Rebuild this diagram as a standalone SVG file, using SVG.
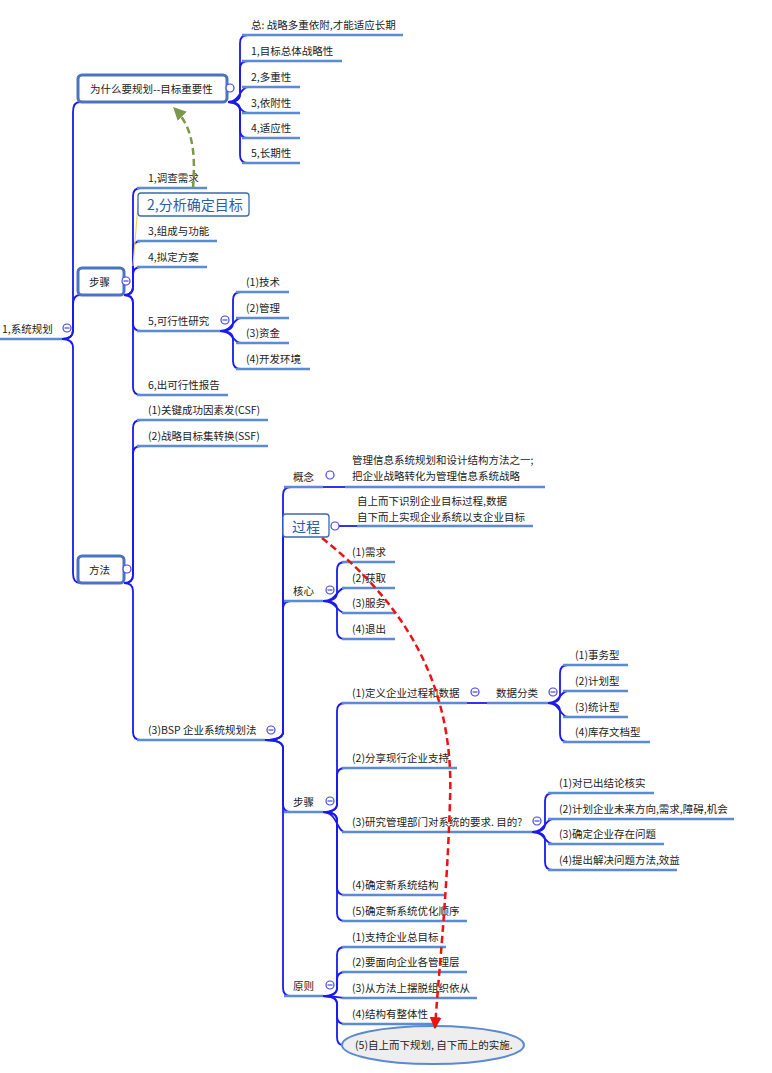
<svg xmlns="http://www.w3.org/2000/svg" width="772" height="1073" viewBox="0 0 772 1073">
<style>
text{font-family:"Noto Sans CJK SC","Liberation Sans",sans-serif;font-size:10.5px;fill:#222}
.big{font-size:14px;fill:#2a5cb0}
.ul{stroke:#5b8bd4;stroke-width:2.5;fill:none}
.cn{stroke:#1a1af0;stroke-width:1.8;fill:none}
.box{fill:#fff;stroke:#4a74c0;stroke-width:3}
.tbox{fill:#fff;stroke:#3a6ab0;stroke-width:1.3}
.col{fill:#fff;stroke:#4545e8;stroke-width:1.2}
.mn{stroke:#4545e8;stroke-width:1.2}
</style>
<defs>
<marker id="ar" viewBox="0 0 10 10" refX="9" refY="5" markerWidth="12" markerHeight="12" markerUnits="userSpaceOnUse" orient="auto"><path d="M0,0 L10,5 L0,10 z" fill="#ee1111"/></marker>
<marker id="ag" viewBox="0 0 10 10" refX="9" refY="5" markerWidth="13" markerHeight="13" markerUnits="userSpaceOnUse" orient="auto"><path d="M0,0 L10,5 L0,10 z" fill="#7a9a4a"/></marker>
</defs>
<rect width="772" height="1073" fill="#fff"/>

<g id="connectors">
<path class="cn" d="M62,339 Q73,339 73,330 L73,112 Q73,102 80,102"/>
<path class="cn" d="M62,339 Q73,339 73,330 L73,305 Q73,295 80,295"/>
<path class="cn" d="M62,339 Q73,339 73,348 L73,573 Q73,583 80,583"/>
<path class="cn" d="M228,102 Q240,102 240,94 L240,43 Q240,35 248,35"/>
<path class="cn" d="M228,102 Q240,102 240,94 L240,69 Q240,61 248,61"/>
<path class="cn" d="M228,102 C240,102 240,87 248,87"/>
<path class="cn" d="M228,102 C240,102 240,113 248,113"/>
<path class="cn" d="M228,102 Q240,102 240,110 L240,130 Q240,138 248,138"/>
<path class="cn" d="M228,102 Q240,102 240,110 L240,155 Q240,163 248,163"/>
<path class="cn" d="M124,295 Q133,295 133,287 L133,196 Q133,188 141,188"/>
<path class="cn" d="M124,295 Q133,295 133,287 L133,249 Q133,241 141,241"/>
<path class="cn" d="M124,295 Q133,295 133,287 L133,275 Q133,267 141,267"/>
<path class="cn" d="M124,295 Q133,295 133,303 L133,323 Q133,331 141,331"/>
<path class="cn" d="M124,295 Q133,295 133,303 L133,387 Q133,395 141,395"/>
<path d="M133,266 L138,205" stroke="#e6d46a" stroke-width="1.2" fill="none"/>
<path class="cn" d="M220,331 Q233,331 233,323 L233,300 Q233,292 241,292"/>
<path class="cn" d="M220,331 C233,331 233,318 241,318"/>
<path class="cn" d="M220,331 C233,331 233,343 241,343"/>
<path class="cn" d="M220,331 Q233,331 233,339 L233,361 Q233,369 241,369"/>
<path class="cn" d="M124,583 Q133,583 133,575 L133,428 Q133,420 141,420"/>
<path class="cn" d="M124,583 Q133,583 133,575 L133,454 Q133,446 141,446"/>
<path class="cn" d="M124,583 Q133,583 133,591 L133,732 Q133,740 141,740"/>
<path class="cn" d="M265,740 Q283,740 283,732 L283,495 Q283,487 291,487"/>
<path class="cn" d="M265,740 Q283,740 283,732 L283,537"/>
<path class="cn" d="M265,740 Q283,740 283,732 L283,609 Q283,601 291,601"/>
<path class="cn" d="M265,740 Q283,740 283,748 L283,804 Q283,812 291,812"/>
<path class="cn" d="M265,740 Q283,740 283,748 L283,988 Q283,996 291,996"/>
<path class="cn" d="M323,487 L345,487"/>
<path class="cn" d="M339,526 L357,526"/>
<path class="cn" d="M323,601 Q337,601 337,593 L337,570 Q337,562 345,562"/>
<path class="cn" d="M323,601 C337,601 337,588 345,588"/>
<path class="cn" d="M323,601 C337,601 337,613 345,613"/>
<path class="cn" d="M323,601 Q337,601 337,609 L337,631 Q337,639 345,639"/>
<path class="cn" d="M323,812 Q337,812 337,804 L337,711 Q337,703 345,703"/>
<path class="cn" d="M323,812 Q337,812 337,804 L337,776 Q337,768 345,768"/>
<path class="cn" d="M323,812 C337,812 337,832 345,832"/>
<path class="cn" d="M323,812 Q337,812 337,820 L337,887 Q337,895 345,895"/>
<path class="cn" d="M323,812 Q337,812 337,820 L337,913 Q337,921 345,921"/>
<path class="cn" d="M467,703 L487,703"/>
<path class="cn" d="M548,703 Q560,703 560,695 L560,673 Q560,665 568,665"/>
<path class="cn" d="M548,703 C560,703 560,691 568,691"/>
<path class="cn" d="M548,703 C560,703 560,717 568,717"/>
<path class="cn" d="M548,703 Q560,703 560,711 L560,734 Q560,742 568,742"/>
<path class="cn" d="M532,832 Q545,832 545,824 L545,801 Q545,793 553,793"/>
<path class="cn" d="M532,832 C545,832 545,819 553,819"/>
<path class="cn" d="M532,832 C545,832 545,844 553,844"/>
<path class="cn" d="M532,832 Q545,832 545,840 L545,862 Q545,870 553,870"/>
<path class="cn" d="M323,996 Q337,996 337,988 L337,955 Q337,947 345,947"/>
<path class="cn" d="M323,996 Q337,996 337,988 L337,980 Q337,972 345,972"/>
<path class="cn" d="M323,996 C337,996 337,998 345,998"/>
<path class="cn" d="M323,996 Q337,996 337,1004 L337,1016 Q337,1024 345,1024"/>
<path class="cn" d="M323,996 Q337,996 337,1004 L337,1037 Q337,1045 343,1045"/>
</g>

<g id="root">
<text x="2" y="333">1,系统规划</text>
<line class="ul" x1="0" y1="339" x2="62" y2="339"/>
<circle class="col" cx="67" cy="328" r="4"/><line class="mn" x1="64.5" y1="328" x2="69.5" y2="328"/>
</g>

<g id="why">
<rect class="box" x="78" y="75" width="149" height="27" rx="4"/>
<text x="90" y="93">为什么要规划--目标重要性</text>
<circle class="col" cx="230" cy="88" r="4"/>
</g>
<g id="why-children">
<text x="251" y="29">总: 战略多重依附,才能适应长期</text><line class="ul" x1="242" y1="35" x2="403" y2="35"/>
<text x="251" y="55">1,目标总体战略性</text><line class="ul" x1="242" y1="61" x2="342" y2="61"/>
<text x="251" y="81">2,多重性</text><line class="ul" x1="242" y1="87" x2="300" y2="87"/>
<text x="251" y="107">3,依附性</text><line class="ul" x1="242" y1="113" x2="300" y2="113"/>
<text x="251" y="132">4,适应性</text><line class="ul" x1="242" y1="138" x2="300" y2="138"/>
<text x="251" y="157">5,长期性</text><line class="ul" x1="242" y1="163" x2="300" y2="163"/>
</g>

<g id="steps">
<rect class="box" x="78" y="268" width="46" height="27" rx="4"/>
<text x="89" y="286">步骤</text>
<circle class="col" cx="126" cy="281" r="4"/><line class="mn" x1="123.5" y1="281" x2="128.5" y2="281"/>
</g>
<g id="steps-children">
<text x="148" y="182">1,调查需求</text><line class="ul" x1="137" y1="188" x2="207" y2="188"/>
<rect class="tbox" x="138" y="193" width="111" height="23" rx="3"/>
<text class="big" x="147" y="210">2,分析确定目标</text>
<text x="148" y="235">3,组成与功能</text><line class="ul" x1="137" y1="241" x2="217" y2="241"/>
<text x="148" y="261">4,拟定方案</text><line class="ul" x1="137" y1="267" x2="207" y2="267"/>
<text x="148" y="325">5,可行性研究</text><line class="ul" x1="137" y1="331" x2="220" y2="331"/>
<circle class="col" cx="225" cy="320" r="4"/><line class="mn" x1="222.5" y1="320" x2="227.5" y2="320"/>
<text x="148" y="389">6,出可行性报告</text><line class="ul" x1="137" y1="395" x2="228" y2="395"/>
<text x="246" y="286">(1)技术</text><line class="ul" x1="236" y1="292" x2="289" y2="292"/>
<text x="246" y="312">(2)管理</text><line class="ul" x1="236" y1="318" x2="289" y2="318"/>
<text x="246" y="337">(3)资金</text><line class="ul" x1="236" y1="343" x2="289" y2="343"/>
<text x="246" y="363">(4)开发环境</text><line class="ul" x1="236" y1="369" x2="310" y2="369"/>
</g>

<g id="method">
<rect class="box" x="78" y="556" width="46" height="27" rx="4"/>
<text x="89" y="574">方法</text>
<circle class="col" cx="127" cy="569" r="4"/>
</g>
<g id="method-children">
<text x="148" y="414">(1)关键成功因素发(CSF)</text><line class="ul" x1="137" y1="420" x2="268" y2="420"/>
<text x="148" y="440">(2)战略目标集转换(SSF)</text><line class="ul" x1="137" y1="446" x2="268" y2="446"/>
<text x="148" y="734">(3)BSP 企业系统规划法</text><line class="ul" x1="137" y1="740" x2="265" y2="740"/>
<circle class="col" cx="271" cy="730" r="4"/><line class="mn" x1="268.5" y1="730" x2="273.5" y2="730"/>
</g>

<g id="concept">
<text x="293" y="481">概念</text><line class="ul" x1="284" y1="487" x2="323" y2="487"/>
<circle class="col" cx="330" cy="475" r="4"/>
<text x="352" y="464">管理信息系统规划和设计结构方法之一;</text>
<text x="352" y="480">把企业战略转化为管理信息系统战略</text>
<line class="ul" x1="345" y1="487" x2="545" y2="487"/>
</g>
<g id="process">
<rect class="tbox" x="283" y="514" width="46" height="23" rx="3"/>
<text class="big" x="292" y="532">过程</text>
<circle class="col" cx="335" cy="526" r="4"/>
<text x="357" y="505">自上而下识别企业目标过程,数据</text>
<text x="357" y="521">自下而上实现企业系统以支企业目标</text>
<line class="ul" x1="357" y1="526" x2="533" y2="526"/>
</g>
<g id="core">
<text x="293" y="595">核心</text><line class="ul" x1="284" y1="601" x2="323" y2="601"/>
<circle class="col" cx="330" cy="590" r="4"/><line class="mn" x1="327.5" y1="590" x2="332.5" y2="590"/>
<text x="352" y="556">(1)需求</text><line class="ul" x1="342" y1="562" x2="395" y2="562"/>
<text x="352" y="582">(2)获取</text><line class="ul" x1="342" y1="588" x2="395" y2="588"/>
<text x="352" y="607">(3)服务</text><line class="ul" x1="342" y1="613" x2="395" y2="613"/>
<text x="352" y="633">(4)退出</text><line class="ul" x1="342" y1="639" x2="395" y2="639"/>
</g>
<g id="bsp-steps">
<text x="293" y="806">步骤</text><line class="ul" x1="284" y1="812" x2="323" y2="812"/>
<circle class="col" cx="330" cy="801" r="4"/><line class="mn" x1="327.5" y1="801" x2="332.5" y2="801"/>
<text x="352" y="697">(1)定义企业过程和数据</text><line class="ul" x1="342" y1="703" x2="467" y2="703"/>
<circle class="col" cx="475" cy="692" r="4"/><line class="mn" x1="472.5" y1="692" x2="477.5" y2="692"/>
<text x="496" y="697">数据分类</text><line class="ul" x1="487" y1="703" x2="548" y2="703"/>
<circle class="col" cx="553" cy="692" r="4"/><line class="mn" x1="550.5" y1="692" x2="555.5" y2="692"/>
<text x="575" y="659">(1)事务型</text><line class="ul" x1="563" y1="665" x2="628" y2="665"/>
<text x="575" y="685">(2)计划型</text><line class="ul" x1="563" y1="691" x2="628" y2="691"/>
<text x="575" y="711">(3)统计型</text><line class="ul" x1="563" y1="717" x2="628" y2="717"/>
<text x="575" y="736">(4)库存文档型</text><line class="ul" x1="563" y1="742" x2="650" y2="742"/>
<text x="352" y="762">(2)分享现行企业支持</text><line class="ul" x1="342" y1="768" x2="457" y2="768"/>
<text x="352" y="826">(3)研究管理部门对系统的要求. 目的?</text><line class="ul" x1="342" y1="832" x2="532" y2="832"/>
<circle class="col" cx="537" cy="821" r="4"/><line class="mn" x1="534.5" y1="821" x2="539.5" y2="821"/>
<text x="559" y="787">(1)对已出结论核实</text><line class="ul" x1="548" y1="793" x2="654" y2="793"/>
<text x="559" y="813">(2)计划企业未来方向,需求,障碍,机会</text><line class="ul" x1="548" y1="819" x2="734" y2="819"/>
<text x="559" y="838">(3)确定企业存在问题</text><line class="ul" x1="548" y1="844" x2="664" y2="844"/>
<text x="559" y="864">(4)提出解决问题方法,效益</text><line class="ul" x1="548" y1="870" x2="677" y2="870"/>
<text x="352" y="889">(4)确定新系统结构</text><line class="ul" x1="342" y1="895" x2="446" y2="895"/>
<text x="352" y="915">(5)确定新系统优化顺序</text><line class="ul" x1="342" y1="921" x2="467" y2="921"/>
</g>
<g id="principle">
<text x="293" y="990">原则</text><line class="ul" x1="284" y1="996" x2="323" y2="996"/>
<circle class="col" cx="330" cy="985" r="4"/><line class="mn" x1="327.5" y1="985" x2="332.5" y2="985"/>
<text x="352" y="941">(1)支持企业总目标</text><line class="ul" x1="342" y1="947" x2="446" y2="947"/>
<text x="352" y="966">(2)要面向企业各管理层</text><line class="ul" x1="342" y1="972" x2="467" y2="972"/>
<text x="352" y="992">(3)从方法上摆脱组织依从</text><line class="ul" x1="342" y1="998" x2="477" y2="998"/>
<text x="352" y="1018">(4)结构有整体性</text><line class="ul" x1="342" y1="1024" x2="434" y2="1024"/>
<ellipse cx="433" cy="1045" rx="91" ry="19" fill="#eeeeee" stroke="#5a8ad0" stroke-width="2"/>
<text x="355" y="1049">(5)自上而下规划, 自下而上的实施.</text>
</g>

<g id="relations">
<path d="M193,188 C196,150 192,126 174,108" fill="none" stroke="#7a9a4a" stroke-width="2.5" stroke-dasharray="7,4" marker-end="url(#ag)"/>
<path d="M322,538 C400,600 455,680 450,800 C447,900 438,980 435,1028" fill="none" stroke="#ee1111" stroke-width="2.5" stroke-dasharray="7,4" marker-end="url(#ar)"/>
</g>
</svg>
